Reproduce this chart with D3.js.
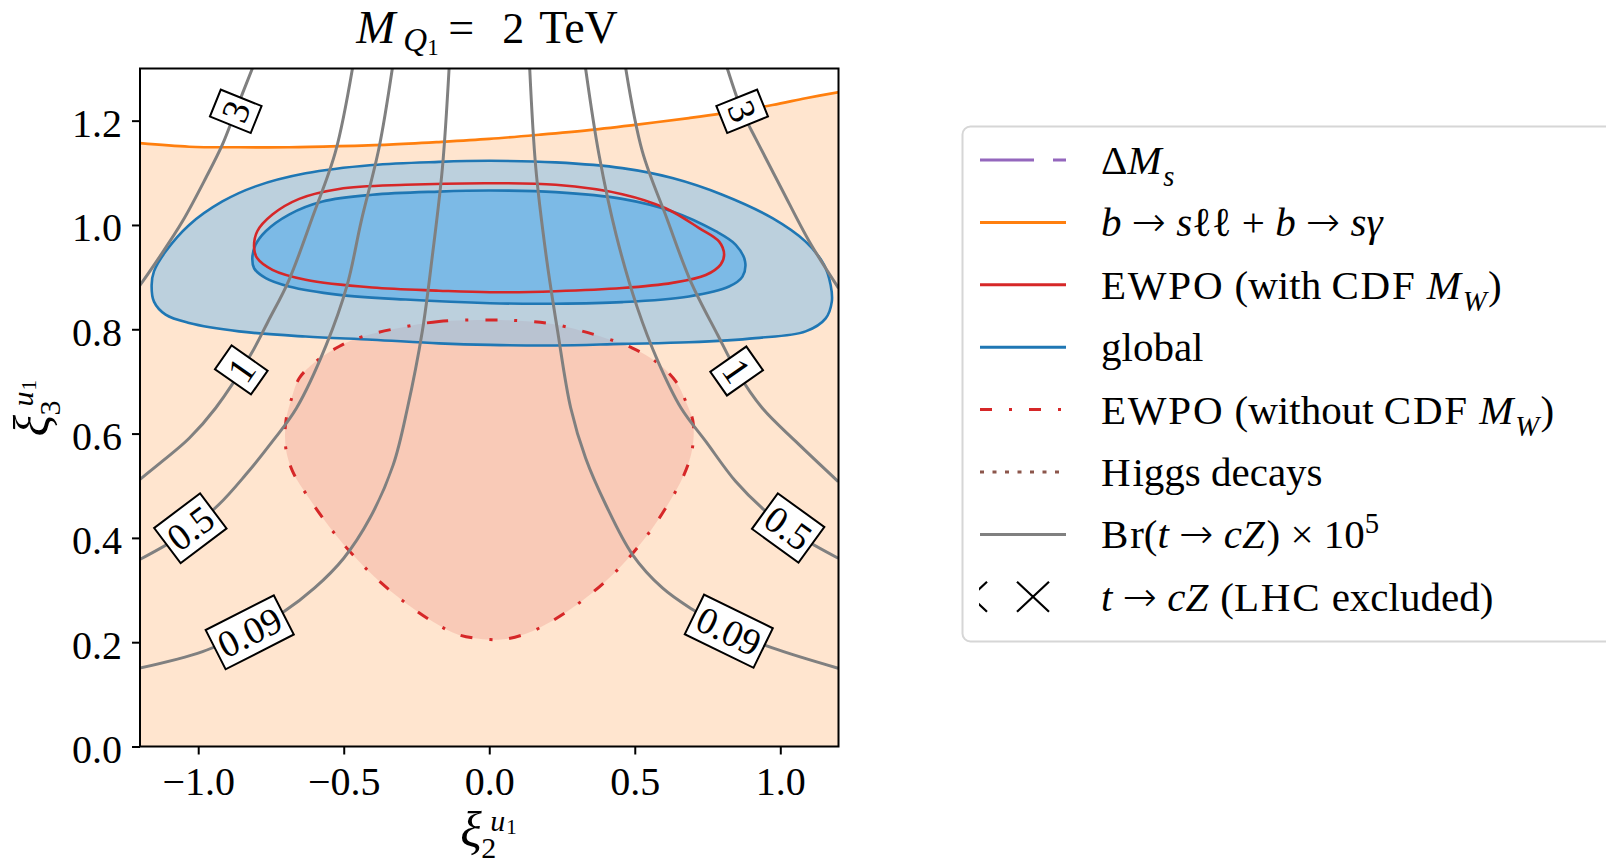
<!DOCTYPE html>
<html>
<head>
<meta charset="utf-8">
<script src="https://cdn.jsdelivr.net/npm/d3@7"></script>
<style>
  body { margin: 0; background: #fff; }
  svg { display: block; }
  text { font-family: "Liberation Serif", "DejaVu Serif", serif; fill: #000; white-space: pre; }
</style>
</head>
<body>
<svg id="chart" width="1606" height="864"></svg>
<script>
// ---- axis ticks ----
const xTicks = [-1.0, -0.5, 0.0, 0.5, 1.0];
const yTicks = [0.0, 0.2, 0.4, 0.6, 0.8, 1.0, 1.2];

// ---- b -> s ll + b -> s gamma boundary (allowed below) ----
const bsllBoundary = [[-1.203,1.157],[-1.031,1.150],[-0.860,1.149],[-0.688,1.149],[-0.516,1.151],[-0.344,1.154],
  [-0.173,1.159],[0.0,1.165],[0.171,1.173],[0.343,1.182],[0.515,1.193],[0.686,1.205],[0.801,1.214],
  [0.973,1.230],[1.087,1.243],[1.203,1.255]];

// ---- global fit regions ----
const globalOuter = [[0.003,1.123],[-0.173,1.121],[-0.402,1.115],[-0.631,1.099],[-0.803,1.074],[-0.917,1.045],
  [-1.031,1.000],[-1.112,0.949],[-1.152,0.911],[-1.160,0.885],[-1.152,0.853],[-1.112,0.828],[-1.031,0.812],
  [-0.860,0.796],[-0.631,0.786],[-0.402,0.780],[-0.173,0.773],[0.003,0.770],[0.228,0.769],[0.457,0.772],
  [0.686,0.775],[0.915,0.783],[1.087,0.796],[1.156,0.821],[1.177,0.853],[1.173,0.885],[1.150,0.924],
  [1.087,0.968],[0.973,1.013],[0.801,1.058],[0.629,1.090],[0.457,1.109],[0.228,1.120]];
const globalInner = [[0.003,1.066],[-0.173,1.064],[-0.402,1.058],[-0.573,1.045],[-0.688,1.020],[-0.768,0.988],
  [-0.803,0.962],[-0.814,0.937],[-0.808,0.917],[-0.768,0.898],[-0.688,0.882],[-0.516,0.866],[-0.287,0.857],
  [0.003,0.850],[0.228,0.849],[0.457,0.852],[0.686,0.863],[0.824,0.882],[0.870,0.901],[0.879,0.930],
  [0.847,0.962],[0.778,0.988],[0.629,1.026],[0.457,1.050],[0.228,1.063]];

// ---- EWPO regions ----
const ewpoWithCdf = [[0.003,1.080],[-0.287,1.077],[-0.516,1.069],[-0.653,1.050],[-0.745,1.020],[-0.797,0.988],
  [-0.808,0.956],[-0.797,0.936],[-0.745,0.914],[-0.631,0.895],[-0.402,0.880],[-0.173,0.874],[0.003,0.871],
  [0.228,0.873],[0.457,0.879],[0.629,0.889],[0.744,0.904],[0.795,0.924],[0.807,0.943],[0.790,0.968],
  [0.721,0.994],[0.606,1.032],[0.457,1.059],[0.228,1.077]];
const ewpoWithoutCdf = [[0.003,0.818],[-0.173,0.815],[-0.287,0.805],[-0.436,0.786],[-0.516,0.767],[-0.596,0.738],
  [-0.653,0.706],[-0.682,0.662],[-0.699,0.623],[-0.699,0.572],[-0.676,0.528],[-0.619,0.476],[-0.528,0.406],
  [-0.425,0.342],[-0.310,0.285],[-0.196,0.240],[-0.104,0.214],[0.003,0.205],[0.057,0.206],[0.148,0.221],
  [0.286,0.266],[0.423,0.329],[0.526,0.393],[0.606,0.457],[0.669,0.521],[0.698,0.572],[0.700,0.623],
  [0.675,0.662],[0.641,0.700],[0.572,0.738],[0.492,0.764],[0.400,0.783],[0.228,0.809],[0.114,0.816]];

// ---- Br(t -> cZ) x 10^5 iso-lines ----
const br3Left   = [[-0.814,1.30],[-0.872,1.218],[-0.917,1.154],[-0.974,1.090],[-1.054,1.007],[-1.135,0.937],[-1.203,0.882]];
const br1Left   = [[-0.470,1.30],[-0.528,1.141],[-0.604,1.020],[-0.690,0.892],[-0.760,0.815],[-0.820,0.751],
  [-0.940,0.649],[-1.031,0.591],[-1.123,0.547],[-1.203,0.511]];
const br05Left  = [[-0.333,1.30],[-0.379,1.147],[-0.440,1.007],[-0.488,0.885],[-0.560,0.770],[-0.662,0.649],
  [-0.745,0.585],[-0.837,0.521],[-0.929,0.464],[-1.054,0.406],[-1.203,0.358]];
const br009Left = [[-0.138,1.30],[-0.161,1.109],[-0.195,0.943],[-0.230,0.796],[-0.281,0.649],[-0.330,0.540],
  [-0.410,0.438],[-0.500,0.361],[-0.600,0.304],[-0.705,0.259],[-0.828,0.221],[-0.985,0.182],[-1.203,0.150]];
const br009Right = [[0.139,1.30],[0.160,1.109],[0.195,0.943],[0.235,0.796],[0.280,0.649],[0.331,0.553],
  [0.400,0.464],[0.492,0.368],[0.595,0.304],[0.700,0.262],[0.825,0.222],[0.973,0.189],[1.199,0.150]];
const br05Right = [[0.331,1.30],[0.377,1.135],[0.436,0.981],[0.509,0.841],[0.580,0.738],[0.659,0.649],
  [0.744,0.585],[0.847,0.508],[0.950,0.451],[1.060,0.405],[1.199,0.361]];
const br1Right  = [[0.469,1.30],[0.526,1.141],[0.610,1.013],[0.692,0.892],[0.785,0.789],[0.850,0.720],
  [0.938,0.649],[1.053,0.585],[1.199,0.508]];
const br3Right  = [[0.818,1.30],[0.869,1.218],[0.915,1.166],[1.003,1.071],[1.100,0.968],[1.200,0.879]];

// inline contour labels: value, position on the line, text angle
const contourLabels = [
  {text: "3",    x: -0.871, y: 1.218,  angle: -68},
  {text: "3",    x:  0.869, y: 1.218,  angle:  68},
  {text: "1",    x: -0.852, y: 0.722,  angle: -55},
  {text: "1",    x:  0.850, y: 0.720,  angle:  55},
  {text: "0.5",  x: -1.027, y: 0.4185, angle: -37},
  {text: "0.5",  x:  1.027, y: 0.419,  angle:  36},
  {text: "0.09", x: -0.823, y: 0.219,  angle: -27},
  {text: "0.09", x:  0.823, y: 0.221,  angle:  26}
];

// ---- legend entries ----
const legendLabels = [
  [{t: "Δ"}, {t: "M", it: 1}, {t: "s", it: 1, sub: 1}],
  [{t: "b", it: 1}, {t: " → "}, {t: "s", it: 1}, {t: "ℓℓ"}, {t: " + "}, {t: "b", it: 1}, {t: " → "}, {t: "sγ", it: 1}],
  [{t: "EWPO (with CDF "}, {t: "M", it: 1}, {t: "W", it: 1, sub: 1}, {t: ")"}],
  [{t: "global"}],
  [{t: "EWPO (without CDF "}, {t: "M", it: 1}, {t: "W", it: 1, sub: 1}, {t: ")"}],
  [{t: "Higgs decays"}],
  [{t: "Br("}, {t: "t", it: 1}, {t: " → "}, {t: "cZ", it: 1}, {t: ") × 10"}, {t: "5", sup: 1}],
  [{t: "t", it: 1}, {t: " → "}, {t: "cZ", it: 1}, {t: " (LHC excluded)"}]
];
const legendHandles = [
  {kind: "line", color: "#9467bd", dash: "54,19"},
  {kind: "line", color: "#ff7f0e", dash: null},
  {kind: "line", color: "#d62728", dash: null},
  {kind: "line", color: "#1f77b4", dash: null},
  {kind: "line", color: "#d62728", dash: "12,17,3,17"},
  {kind: "line", color: "#8c564b", dash: "4,8.5"},
  {kind: "line", color: "#808080", dash: null},
  {kind: "cross", color: "#000000", dash: null}
];

// ---------------------------------------------------------------
const svg = d3.select("#chart");
const plot = {left: 140, right: 838.5, top: 68.5, bottom: 746.5};
const x = d3.scaleLinear().domain([-1.2, 1.2]).range([plot.left, plot.right]);
const y = d3.scaleLinear().domain([0, 1.3]).range([plot.bottom, plot.top]);

svg.append("defs").append("clipPath").attr("id", "plotClip")
  .append("rect").attr("x", plot.left).attr("y", plot.top)
  .attr("width", plot.right - plot.left).attr("height", plot.bottom - plot.top);

const g = svg.append("g").attr("clip-path", "url(#plotClip)");

const openLine = d3.line().x(d => x(d[0])).y(d => y(d[1])).curve(d3.curveCatmullRom.alpha(0.5));
const closedLine = d3.line().x(d => x(d[0])).y(d => y(d[1])).curve(d3.curveCatmullRomClosed.alpha(0.5));

// allowed region of b -> s transitions (below the boundary)
const bsllArea = d3.area().x(d => x(d[0])).y0(y(0)).y1(d => y(d[1])).curve(d3.curveCatmullRom.alpha(0.5));
g.append("path").attr("d", bsllArea(bsllBoundary)).attr("fill", "#ffe5cf");

// EWPO without CDF M_W: filled region
g.append("path").attr("d", closedLine(ewpoWithoutCdf)).attr("fill", "rgba(214,39,40,0.14)");

// global fit: 2 sigma and 1 sigma
g.append("path").attr("d", closedLine(globalOuter)).attr("fill", "rgba(121,188,236,0.5)");
g.append("path").attr("d", closedLine(globalInner)).attr("fill", "#7cbae6");

g.append("path").attr("d", closedLine(globalOuter)).attr("fill", "none").attr("stroke", "#1f77b4").attr("stroke-width", 2.6);
g.append("path").attr("d", closedLine(globalInner)).attr("fill", "none").attr("stroke", "#1f77b4").attr("stroke-width", 2.6);

// EWPO with CDF M_W
g.append("path").attr("d", closedLine(ewpoWithCdf)).attr("fill", "none").attr("stroke", "#d62728").attr("stroke-width", 2.6);

// EWPO without CDF M_W boundary
g.append("path").attr("d", closedLine(ewpoWithoutCdf)).attr("fill", "none").attr("stroke", "#d62728")
  .attr("stroke-width", 3).attr("stroke-dasharray", "12,17,3,17");

// b -> s boundary line
g.append("path").attr("d", openLine(bsllBoundary)).attr("fill", "none").attr("stroke", "#ff7f0e").attr("stroke-width", 2.7);

// Br(t -> cZ) iso-lines
[br3Left, br1Left, br05Left, br009Left, br009Right, br05Right, br1Right, br3Right].forEach(pts => {
  g.append("path").attr("d", openLine(pts)).attr("fill", "none").attr("stroke", "#808080").attr("stroke-width", 3);
});

// inline labels
contourLabels.forEach(lb => {
  const lg = g.append("g").attr("transform", `translate(${x(lb.x)},${y(lb.y)}) rotate(${lb.angle})`);
  const rect = lg.append("rect").attr("fill", "#fff").attr("stroke", "#000").attr("stroke-width", 2);
  const t = lg.append("text").attr("text-anchor", "middle").attr("dy", "0.34em")
    .attr("font-size", 38).text(lb.text);
  const w = t.node().getComputedTextLength() + 10;
  rect.attr("x", -w / 2).attr("y", -22).attr("width", w).attr("height", 44);
});

// frame
svg.append("rect").attr("x", plot.left).attr("y", plot.top)
  .attr("width", plot.right - plot.left).attr("height", plot.bottom - plot.top)
  .attr("fill", "none").attr("stroke", "#000").attr("stroke-width", 2);

// axes
const fmt = d3.format(".1f");
const xAxis = svg.append("g").attr("transform", `translate(0,${plot.bottom})`)
  .call(d3.axisBottom(x).tickValues(xTicks).tickFormat(fmt).tickSize(8).tickPadding(12));
const yAxis = svg.append("g").attr("transform", `translate(${plot.left},0)`)
  .call(d3.axisLeft(y).tickValues(yTicks).tickFormat(fmt).tickSize(8).tickPadding(10));
[xAxis, yAxis].forEach(a => {
  a.attr("font-size", 40).attr("font-family", null);
  a.select(".domain").remove();
  a.selectAll(".tick line").attr("stroke", "#000").attr("stroke-width", 2);
  a.selectAll(".tick text").attr("fill", "#000");
});
yAxis.selectAll(".tick text").attr("dy", "0.4em");

// math-like text built from pieces; capitals are spaced out slightly and
// arrows use a longer glyph, closer to TeX metrics
function mathText(sel, pieces, baseSize) {
  let shift = 0;
  pieces.forEach(p => {
    const s = p.sub ? 0.3 * baseSize : p.sup ? -0.38 * baseSize : 0;
    const size = (p.sub || p.sup) ? 0.7 * baseSize : baseSize;
    const runs = p.t.split(/([A-Z]+|→)/).filter(r => r.length);
    runs.forEach((r, k) => {
      const ts = sel.append("tspan").text(r).attr("font-size", size);
      if (k === 0) ts.attr("dy", s - shift);
      if (p.it) ts.attr("font-style", "italic");
      if (/^[A-Z]+$/.test(r)) ts.attr("letter-spacing", (0.045 * size).toFixed(1));
      if (r === "→") ts.attr("font-family", "DejaVu Sans").attr("font-weight", 200).attr("font-size", size);
    });
    shift = s;
  });
}

// title
const cx = (plot.left + plot.right) / 2;
const title = svg.append("g").attr("transform", `translate(${cx},43)`);
title.append("text").attr("x", -133).attr("font-size", 47).attr("font-style", "italic").text("M");
title.append("text").attr("x", -86).attr("y", 8).attr("font-size", 33).attr("font-style", "italic").text("Q");
title.append("text").attr("x", -62).attr("y", 12).attr("font-size", 23).text("1");
title.append("text").attr("x", -41).attr("font-size", 46).text("=");
title.append("text").attr("x", 13).attr("font-size", 44).text("2");
title.append("text").attr("x", 50).attr("font-size", 46).text("TeV");

// axis labels: xi_2^{u_1} and xi_3^{u_1}
function xiLabel(sel, idx) {
  sel.append("text").attr("x", -29).attr("y", 0).attr("font-size", 50).attr("font-style", "italic").text("ξ");
  sel.append("text").attr("x", -8).attr("y", 11).attr("font-size", 30).text(idx);
  sel.append("text").attr("x", 1).attr("y", -16).attr("font-size", 30).attr("font-style", "italic").text("u");
  sel.append("text").attr("x", 17).attr("y", -13).attr("font-size", 21).text("1");
}
xiLabel(svg.append("g").attr("transform", `translate(${cx},847)`), "2");
xiLabel(svg.append("g").attr("transform", `translate(49,${(plot.top + plot.bottom) / 2}) rotate(-90)`), "3");

// legend
const leg = svg.append("g");
leg.append("rect").attr("x", 962.5).attr("y", 126.5).attr("width", 720).attr("height", 515)
  .attr("rx", 8).attr("fill", "#fff").attr("stroke", "#d6d6d6").attr("stroke-width", 2);
const rowY = i => 160 + i * 62.4;
const hx0 = 980, hx1 = 1066, tx = 1101;
leg.append("clipPath").attr("id", "legClip").append("rect")
  .attr("x", 979).attr("y", 100).attr("width", 600).attr("height", 600);
legendHandles.forEach((h, i) => {
  const yy = rowY(i);
  if (h.kind === "line") {
    const ln = leg.append("line").attr("x1", hx0).attr("x2", hx1).attr("y1", yy).attr("y2", yy)
      .attr("stroke", h.color).attr("stroke-width", 3);
    if (h.dash) ln.attr("stroke-dasharray", h.dash);
  } else {
    const cg = leg.append("g").attr("clip-path", "url(#legClip)");
    [971, 1033].forEach(c => {
      cg.append("path").attr("d", `M${c - 16},${yy - 15}L${c + 16},${yy + 15}M${c - 16},${yy + 15}L${c + 16},${yy - 15}`)
        .attr("stroke", h.color).attr("stroke-width", 2.2).attr("fill", "none");
    });
  }
  const t = leg.append("text").attr("x", tx).attr("y", yy + 14).attr("font-size", 41);
  mathText(t, legendLabels[i], 41);
});
</script>
</body>
</html>
